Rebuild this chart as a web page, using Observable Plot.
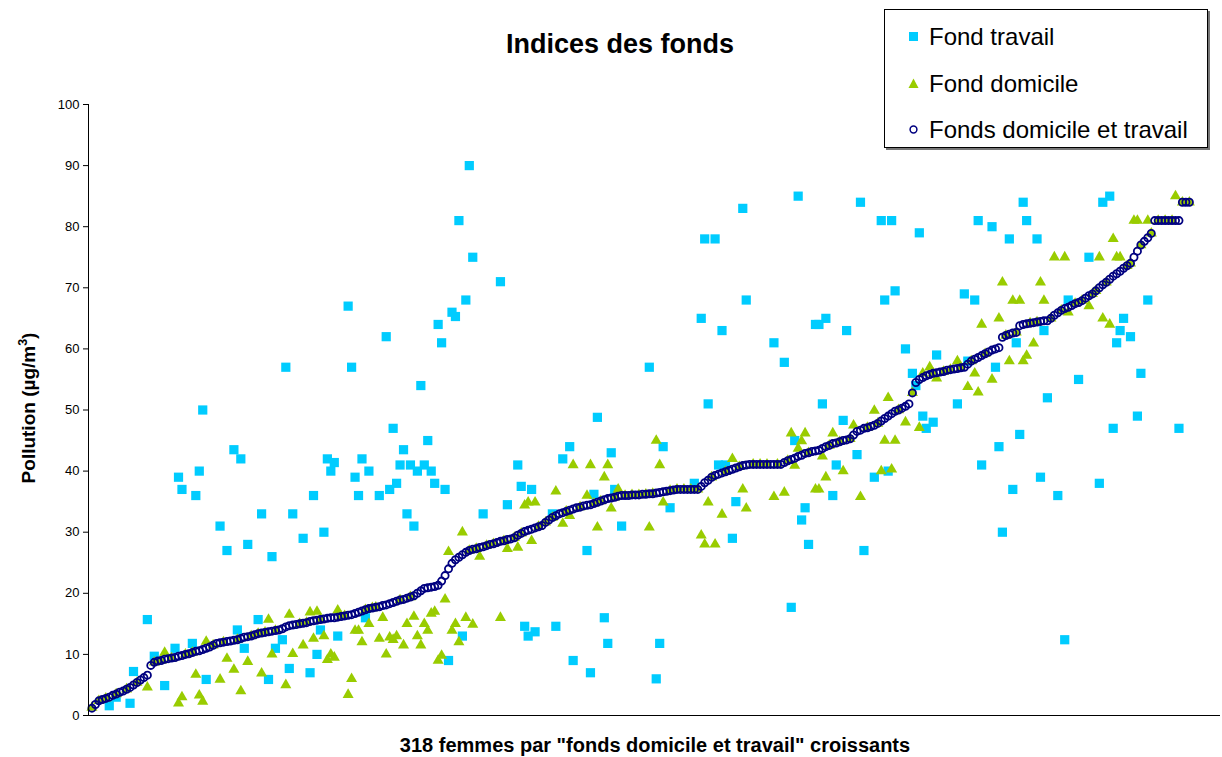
<!DOCTYPE html>
<html><head><meta charset="utf-8">
<script src="https://cdn.jsdelivr.net/npm/d3@7"></script>
<script src="https://cdn.jsdelivr.net/npm/@observablehq/plot@0.6"></script>
<style>
body{margin:0;background:#fff;font-family:"Liberation Sans",Arial,sans-serif;}
#wrap{position:relative;width:1222px;height:757px;overflow:hidden;}
#chart{position:absolute;left:0;top:0;}
.t{position:absolute;white-space:nowrap;color:#000;}
#title{left:620px;top:29px;transform:translateX(-50%);font-weight:bold;font-size:27px;}
#xlabel{left:655px;top:734px;transform:translateX(-50%);font-weight:bold;font-size:20px;}
#ylabel{left:28px;top:408px;transform:translate(-50%,-50%) rotate(-90deg);font-weight:bold;font-size:19px;}
#legend{position:absolute;left:884px;top:9px;width:322px;height:137px;border:1px solid #000;background:#fff;box-shadow:2px 2px 0 #777;}
.row{position:absolute;left:0;height:30px;font-size:24px;}
.row svg{position:absolute;left:22px;top:7px;}
.row span{position:absolute;left:44px;top:0px;white-space:nowrap;}
</style></head>
<body><div id="wrap"><div id="chart"></div>
<div id="title" class="t">Indices des fonds</div>
<div id="xlabel" class="t">318 femmes par "fonds domicile et travail" croissants</div>
<div id="ylabel" class="t">Pollution (µg/m<sup style="font-size:0.65em">3</sup>)</div>
<div id="legend"></div>
</div>
<script>
const seriesNames = ["Fond travail", "Fond domicile", "Fonds domicile et travail"];
const seriesColors = ["#00CCFF", "#99CC00", "#000080"];
const yTicks = [0,10,20,30,40,50,60,70,80,90,100];

// Fonds domicile et travail, sorted (rank 1..318)
const combined = [
1.2,1.8,2.4,2.6,2.8,3.0,3.3,3.5,3.8,4.0,
4.3,4.6,5.0,5.4,5.8,6.2,6.6,8.2,8.7,8.9,
9.0,9.2,9.3,9.4,9.5,9.7,9.8,10.0,10.1,10.3,
10.5,10.6,10.8,11.0,11.2,11.5,11.8,11.9,12.0,12.1,
12.2,12.3,12.4,12.6,12.8,12.9,13.0,13.2,13.4,13.5,
13.6,13.7,13.8,13.9,14.0,14.2,14.5,14.7,14.8,14.9,
15.0,15.1,15.2,15.4,15.5,15.6,15.7,15.8,15.9,16.0,
16.0,16.1,16.2,16.3,16.4,16.5,16.7,16.9,17.1,17.3,
17.5,17.6,17.7,17.8,18.0,18.1,18.3,18.5,18.7,18.9,
19.0,19.2,19.4,19.6,20.0,20.4,20.8,20.9,21.0,21.1,
21.3,22.0,22.9,24.0,24.9,25.5,25.9,26.3,26.7,27.0,
27.2,27.3,27.5,27.6,27.8,28.0,28.1,28.3,28.5,28.6,
28.8,28.9,29.1,29.5,29.8,30.1,30.3,30.5,30.7,30.9,
31.1,31.6,32.0,32.4,32.7,33.0,33.2,33.4,33.6,33.8,
34.0,34.1,34.3,34.4,34.5,34.7,34.9,35.1,35.3,35.5,
35.6,35.7,35.9,36.0,36.0,36.0,36.1,36.1,36.1,36.2,
36.2,36.3,36.3,36.4,36.5,36.6,36.7,36.8,36.9,37.0,
37.0,37.0,37.0,37.0,37.0,37.0,37.5,38.1,38.5,39.0,
39.3,39.5,39.7,39.9,40.1,40.3,40.5,40.7,40.9,41.0,
41.1,41.1,41.1,41.1,41.1,41.1,41.1,41.1,41.1,41.1,
41.4,41.7,41.9,42.1,42.4,42.6,42.9,43.0,43.2,43.3,
43.4,43.7,44.0,44.2,44.5,44.6,44.8,45.0,45.1,45.3,
45.9,46.5,46.7,47.0,47.1,47.3,47.5,47.8,48.2,48.6,
49.0,49.4,49.8,50.0,50.3,50.6,51.0,52.8,54.5,55.0,
55.3,55.6,55.8,56.0,56.1,56.2,56.3,56.5,56.6,56.7,
56.8,56.9,57.0,57.5,58.0,58.3,58.6,58.9,59.2,59.5,
59.8,60.0,60.2,61.9,62.2,62.4,62.6,62.7,63.8,64.0,
64.1,64.2,64.3,64.4,64.5,64.6,64.6,65.0,65.5,65.9,
66.3,66.6,66.8,67.1,67.4,67.6,67.9,68.3,68.7,69.0,
69.5,70.0,70.5,70.9,71.4,71.9,72.3,72.7,73.2,73.6,
74.0,75.0,76.0,77.0,77.6,78.2,78.9,81.0,81.0,81.0,
81.0,81.0,81.0,81.0,81.0,84.0,84.0,84.0
];

// Fond travail: rank of the woman and value
const travailRank = [
6,8,12,13,17,19,22,25,26,27,
30,31,32,33,34,38,40,42,43,44,
45,46,49,50,52,53,54,56,57,58,
59,62,64,65,66,67,68,69,70,71,
72,75,76,77,78,79,80,81,84,86,
87,88,89,90,91,92,93,94,95,96,
97,98,99,100,101,102,103,104,105,106,
107,108,109,110,111,114,119,121,124,125,
126,127,128,129,134,135,137,139,140,144,
145,146,147,149,150,151,152,154,162,164,
165,166,168,175,177,178,179,181,182,183,
184,186,187,189,190,198,201,203,204,205,
206,207,208,210,211,212,213,215,216,218,
219,222,223,224,227,229,230,231,232,233,
236,238,239,240,241,242,244,245,251,253,
254,256,257,258,261,262,263,264,266,267,
268,269,270,271,274,275,276,277,280,282,
283,286,289,292,293,295,296,297,298,299,
301,303,304,306,315
];
const travailValue = [
1.6,3,2,7.2,15.7,9.7,4.9,11,39,37,
11.8,36,40,50,5.9,31,27,43.5,14,42,
11,28,15.7,33,5.9,26,11,12.4,57,7.7,
33,29,7,36,10,14,30,42,40,41.4,
13,67,57,39,36,42,16,40,36,62,
37,47,38,41,43.5,33,41,31,40,54,
41,45,40,38,64,61,37,9,66,65.3,
81,13,68,90,75,33,71,34.5,41,37.5,
14.6,13,37,13.7,33,14.6,42,44,9,27,
7,36.2,48.8,16,11.8,43,37,31,57,6,
11.8,44,34,38,65,78,51,78,41,63,
41,29,35,83,68,61,57.8,17.7,45,85,
32,34,28,64,64,51,65,36,41,48.3,
63,42.7,84,27,39,81,68,40,81,69.5,
60,56,54,79,49,47,48,59,51,69,
58,68,81,41,80,57,44,30,78,37,
61,46,84,81,78,39,63,52,36,12.4,
68,55,75,38,84,85,47,61,63,65,
62,49,56,68,47
];

// Fond domicile: rank of the woman and value
const domicileRank = [
1,17,22,26,27,31,32,33,34,38,
40,42,44,46,50,52,53,57,58,59,
62,64,65,66,68,69,70,71,72,75,
76,77,78,79,81,84,85,86,87,88,
89,91,92,94,95,96,97,98,99,100,
101,102,103,104,105,106,107,108,109,111,
113,119,121,124,126,127,128,129,135,137,
139,140,144,145,147,149,150,151,153,162,
164,165,166,177,178,179,181,183,186,189,
190,198,201,203,204,205,206,207,210,211,
212,213,215,218,221,223,227,229,230,231,
232,233,236,240,241,243,245,251,254,256,
257,258,261,263,264,266,267,269,270,271,
273,275,276,279,282,283,289,292,293,295,
296,297,298,302,303,306,314,
3,5,8,11,14,19,21,24,28,30,
36,39,43,47,49,51,54,61,63,67,
73,74,80,82,83,90,93,110,112,115,
117,120,123,125,130,132,134,138,142,146,
148,152,155,157,159,161,163,168,170,172,
174,176,180,184,188,192,194,196,199,202,
208,214,217,220,225,228,234,238,244,247,
249,252,255,259,265,268,272,274,278,281,
285,287,290,291,294,300,301,304,307,309,
311,313,316,318
];
const domicileValue = [
1.3,4.6,10.3,2,3,6.7,3.3,2.3,12.1,5.9,
9.3,7.5,4,8.8,6.9,15.7,10,5,16.5,10.1,
11.5,16.9,12.6,17,13,9.1,10,9.5,17.2,3.4,
6,13.9,13.9,12,15,12.6,16,10,12.8,12.4,
13,11.5,15,16.2,13,11.5,15,13.9,16.7,17,
9,9.8,19,26.8,13.9,15,12,30,16,14.9,
26,16,27.3,27.5,34.4,34.9,28.6,34.9,36.7,31.4,
32.7,41,36,41,30.8,39,41,33.9,37,30.8,
45,41,34.9,29.5,28,34.9,28,32.9,42,37,
33.9,35.8,36.5,46.2,40.9,43.7,44.9,46.2,37,37,
42.4,39,46.2,40,47.5,35.8,49.9,40,45,52,
40.3,45,48,47.1,56,57,55.2,58,53.8,56,
52.9,64,55,65,70.9,58,67.9,67.9,58,58.9,
60.9,70.9,67.9,75,75,66,67,75,65,64,
78,75,75,81,81,81,85,
2.4,2.8,3.5,4.3,5.4,8.7,9.0,9.4,10.0,10.3,
11.5,12.0,12.4,13.0,13.4,13.6,13.9,15.0,15.2,15.7,
16.2,16.3,17.3,17.6,17.7,18.9,19.4,27.0,27.3,27.8,
28.1,28.6,29.1,29.8,30.9,31.6,32.4,33.4,34.1,34.7,
35.1,35.7,36.0,36.1,36.1,36.2,36.3,36.8,37.0,37.0,
37.0,37.0,39.0,39.9,40.7,41.1,41.1,41.1,41.1,41.7,
43.0,44.2,44.8,45.3,47.1,47.8,50.0,52.8,56.0,56.3,
56.6,56.9,58.0,59.2,62.2,62.7,64.2,64.4,65.0,66.3,
67.4,67.9,69.0,69.5,70.9,73.6,74.0,77.0,78.9,81.0,
81.0,81.0,84.0,84.0
];

const combinedData = combined.map((v, i) => ({rank: i + 1, value: v}));
const travailData = travailRank.map((r, i) => ({rank: r, value: travailValue[i]}));
const domicileData = domicileRank.map((r, i) => ({rank: r, value: domicileValue[i]}));

const chart = Plot.plot({
  width: 1222,
  height: 757,
  marginLeft: 88,
  marginRight: 2,
  marginTop: 104,
  marginBottom: 42,
  style: {fontFamily: '"Liberation Sans", Arial, sans-serif', fontSize: "13px", color: "#000", background: "transparent"},
  x: {domain: [0, 327], axis: null},
  y: {domain: [0, 100], ticks: yTicks, tickSize: 5, tickPadding: 4, label: null, tickFormat: d => String(d)},
  marks: [
    Plot.dot(travailData, {x: "rank", y: "value", symbol: "square", r: 5.2, fill: seriesColors[0], stroke: "none"}),
    Plot.dot(domicileData, {x: "rank", y: "value", symbol: "triangle", r: 4.1, fill: seriesColors[1], stroke: "none"}),
    Plot.dot(combinedData, {x: "rank", y: "value", r: 3.6, fill: "none", stroke: seriesColors[2], strokeWidth: 1.8}),
    Plot.ruleX([0], {stroke: "#000", strokeWidth: 1}),
    Plot.ruleY([0], {stroke: "#000", strokeWidth: 1.2})
  ]
});
document.getElementById("chart").appendChild(chart);

// Legend
const legend = document.getElementById("legend");
const symbols = [
  '<rect x="2" y="2" width="9" height="9" fill="' + seriesColors[0] + '"/>',
  '<path d="M6.5 1.5 L11.5 11 L1.5 11 Z" fill="' + seriesColors[1] + '"/>',
  '<circle cx="6.5" cy="6.5" r="3.4" fill="none" stroke="' + seriesColors[2] + '" stroke-width="1.5"/>'
];
const rowTops = [13, 60, 106];
seriesNames.forEach((name, i) => {
  const row = document.createElement("div");
  row.className = "row";
  row.style.top = rowTops[i] + "px";
  row.innerHTML = '<svg width="13" height="13">' + symbols[i] + '</svg><span>' + name + '</span>';
  legend.appendChild(row);
});
</script>
</body></html>
